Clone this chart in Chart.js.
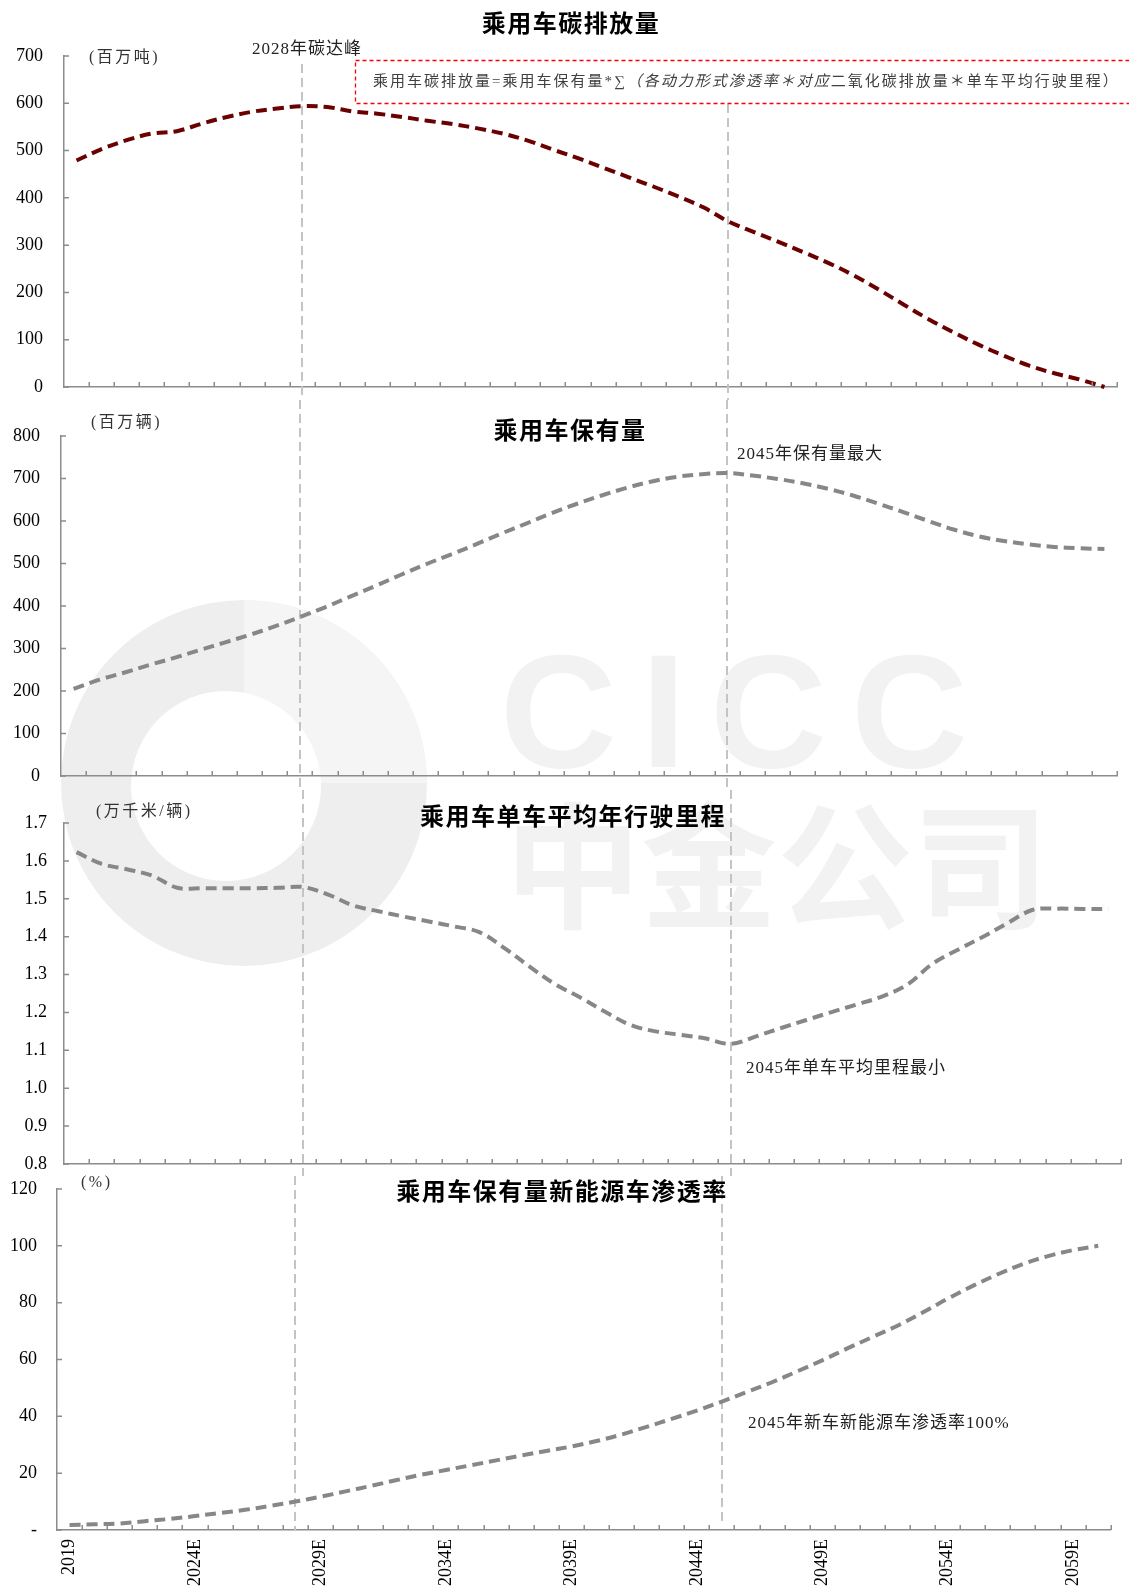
<!DOCTYPE html>
<html>
<head>
<meta charset="utf-8">
<script src="https://cdn.jsdelivr.net/npm/chart.js@4.4.1/dist/chart.umd.min.js"></script>
<style>
  html, body { margin: 0; padding: 0; background: #fff; }
  #wrap { position: relative; width: 1129px; height: 1592px; overflow: hidden; background: #fff; }
  #wrap canvas { position: absolute; left: 0; top: 0; }
</style>
</head>
<body>
<div id="wrap">
  <canvas id="bg" width="1129" height="1592"></canvas>
  <canvas id="c1" width="1129" height="1592"></canvas>
  <canvas id="c2" width="1129" height="1592"></canvas>
  <canvas id="c3" width="1129" height="1592"></canvas>
  <canvas id="c4" width="1129" height="1592"></canvas>
  <canvas id="fg" width="1129" height="1592"></canvas>
</div>
<script>
// Years on the shared horizontal axis
const years = ['2019','2020E','2021E','2022E','2023E','2024E','2025E','2026E','2027E','2028E',
  '2029E','2030E','2031E','2032E','2033E','2034E','2035E','2036E','2037E','2038E',
  '2039E','2040E','2041E','2042E','2043E','2044E','2045E','2046E','2047E','2048E',
  '2049E','2050E','2051E','2052E','2053E','2054E','2055E','2056E','2057E','2058E',
  '2059E','2060E'];

// 乘用车碳排放量 (百万吨)
const emissions = [479, 503, 522, 536, 541, 557, 571, 582, 589, 594,
  592, 583, 578, 571, 563, 556, 547, 536, 521, 502,
  484, 464, 444, 424, 403, 380, 350, 328, 307, 285,
  262, 236, 206, 174, 143, 115, 89, 66, 45, 29,
  16, 0];

// 乘用车保有量 (百万辆)
const carStock = [205, 226, 243, 261, 278, 296, 314, 332, 352, 374,
  397, 422, 447, 473, 498, 521, 545, 570, 594, 618,
  640, 660, 678, 693, 704, 710, 713, 707, 699, 689,
  676, 660, 641, 621, 600, 580, 564, 553, 545, 539,
  536, 534];

// 乘用车单车平均年行驶里程 (万千米/辆)
const mileage = [1.623, 1.592, 1.578, 1.561, 1.529, 1.528, 1.528, 1.528, 1.529, 1.531,
  1.511, 1.482, 1.467, 1.453, 1.440, 1.427, 1.412, 1.370, 1.321, 1.275,
  1.240, 1.202, 1.167, 1.150, 1.141, 1.131, 1.117, 1.137, 1.159, 1.180,
  1.201, 1.221, 1.242, 1.273, 1.328, 1.365, 1.399, 1.436, 1.471, 1.474,
  1.473, 1.473];

// 乘用车保有量新能源车渗透率 (%)
const nevShare = [1.8, 2.0, 2.3, 3.1, 3.9, 4.9, 6.0, 7.1, 8.5, 10.0,
  11.7, 13.6, 15.5, 17.5, 19.4, 21.1, 22.8, 24.5, 26.2, 27.8,
  29.4, 31.3, 33.6, 36.3, 39.1, 42.0, 45.2, 48.6, 52.0, 55.8,
  59.7, 63.9, 67.9, 71.9, 76.5, 81.4, 85.9, 90.0, 93.6, 96.4,
  98.5, 100.0];

// Years marked with a vertical guide line
const peakEmissionYear = '2028E';
const peakStockYear = '2045E';

const AXIS = '#8c8c8c';
const W = 1129, H = 1592;

// guide lines + inward tick marks
const panelDecor = {
  id: 'panelDecor',
  beforeDatasetsDraw(chart, args, opts) {
    const ctx = chart.ctx;
    const xs = chart.scales.x;
    ctx.save();
    ctx.strokeStyle = '#c4c4c4';
    ctx.lineWidth = 2;
    ctx.setLineDash([9, 5]);
    opts.guides.forEach(g => {
      const px = Math.round(xs.getPixelForValue(years.indexOf(g.year)));
      ctx.beginPath();
      ctx.moveTo(px, g.from);
      ctx.lineTo(px, g.to);
      ctx.stroke();
    });
    ctx.restore();
  },
  afterDraw(chart) {
    const ctx = chart.ctx;
    const {left, right, bottom} = chart.chartArea;
    const ys = chart.scales.y;
    const n = years.length;
    const w = (right - left) / n;
    ctx.save();
    ctx.strokeStyle = AXIS;
    ctx.lineWidth = 1.5;
    ctx.beginPath();
    for (let k = 1; k <= n; k++) {
      const px = Math.round(left + k * w) + 0.25;
      ctx.moveTo(px, bottom);
      ctx.lineTo(px, bottom - 5);
    }
    ys.ticks.forEach(t => {
      const py = ys.getPixelForValue(t.value);
      ctx.moveTo(left, py);
      ctx.lineTo(left + 5, py);
    });
    ctx.stroke();
    ctx.restore();
  }
};

function makePanel(p) {
  const showX = !!p.xLabels;
  return new Chart(document.getElementById(p.id), {
    type: 'line',
    data: {
      labels: years,
      datasets: [{
        data: p.data,
        borderColor: p.color,
        borderWidth: 4,
        borderDash: [11, 6],
        pointRadius: 0,
        tension: 0.35,
        fill: false,
        clip: false
      }]
    },
    options: {
      responsive: false,
      animation: false,
      devicePixelRatio: 1,
      layout: { padding: { left: 0, right: W - p.right, top: p.top, bottom: showX ? H - p.bottom - 60 : H - p.bottom } },
      plugins: {
        legend: { display: false },
        tooltip: { enabled: false },
        panelDecor: { guides: p.guides }
      },
      scales: {
        x: {
          type: 'category',
          offset: true,
          grid: { display: false, drawTicks: false },
          border: { display: true, color: AXIS, width: 1.5 },
          ticks: showX ? {
            display: true,
            autoSkip: false,
            maxRotation: 90,
            minRotation: 90,
            padding: 9,
            color: '#000',
            font: { family: "'Liberation Serif', 'Times New Roman', serif", size: 18 },
            callback: (v, i) => (i % 5 === 0 ? years[i] : '')
          } : { display: false },
          afterFit: s => { s.height = showX ? 60 : 0; }
        },
        y: {
          min: p.min,
          max: p.max,
          grid: { display: false, drawTicks: false },
          border: { display: true, color: AXIS, width: 1.5 },
          ticks: {
            stepSize: p.step,
            padding: p.pad,
            color: '#000',
            font: { family: "'Liberation Serif', 'Times New Roman', serif", size: 18 },
            callback: p.fmt
          },
          afterFit: s => { s.width = p.left; }
        }
      }
    },
    plugins: [panelDecor]
  });
}

makePanel({
  id: 'c1', data: emissions, color: '#6b0000',
  left: 64, right: 1117, top: 56, bottom: 387,
  min: 0, max: 700, step: 100, pad: 21, fmt: v => String(v),
  guides: [{ year: peakEmissionYear, from: 64, to: 400 }, { year: peakStockYear, from: 104, to: 400 }]
});
makePanel({
  id: 'c2', data: carStock, color: '#878787',
  left: 61, right: 1117, top: 436, bottom: 776,
  min: 0, max: 800, step: 100, pad: 21, fmt: v => String(v),
  guides: [{ year: peakEmissionYear, from: 400, to: 790 }, { year: peakStockYear, from: 400, to: 790 }]
});
makePanel({
  id: 'c3', data: mileage, color: '#878787',
  left: 64, right: 1121, top: 823, bottom: 1164,
  min: 0.8, max: 1.7, step: 0.1, pad: 17, fmt: v => Number(v).toFixed(1),
  guides: [{ year: peakEmissionYear, from: 790, to: 1176 }, { year: peakStockYear, from: 790, to: 1176 }]
});
makePanel({
  id: 'c4', data: nevShare, color: '#878787',
  left: 57, right: 1114, top: 1189, bottom: 1530,
  min: 0, max: 120, step: 20, pad: 20, fmt: v => (v === 0 ? '-' : String(v)),
  xLabels: true,
  guides: [{ year: peakEmissionYear, from: 1176, to: 1530 }, { year: peakStockYear, from: 1176, to: 1526 }]
});

// faint company mark behind the panels
(function drawMark() {
  const c = document.getElementById('bg').getContext('2d');
  const cx = 244, cy = 783, R = 183;
  c.fillStyle = '#eeeeee';
  c.beginPath(); c.arc(cx, cy, R, 0, Math.PI * 2); c.fill();
  c.fillStyle = '#f5f5f5';
  c.beginPath(); c.moveTo(cx, cy); c.arc(cx, cy, R, -Math.PI / 2, 0); c.closePath(); c.fill();
  c.fillStyle = '#ffffff';
  c.beginPath(); c.arc(226, 786, 95, 0, Math.PI * 2); c.fill();

  c.fillStyle = '#f2f2f2';
  c.textBaseline = 'alphabetic';
  c.textAlign = 'left';
  c.font = "bold 162px 'Liberation Sans', Arial, sans-serif";
  c.letterSpacing = '24px';
  c.fillText('CICC', 500, 767);
  c.font = "bold 136px 'Noto Sans CJK SC', sans-serif";
  c.letterSpacing = '0px';
  c.textBaseline = 'middle';
  c.fillText('中金公司', 505, 866);
})();

// titles, units and notes
(function drawText() {
  const c = document.getElementById('fg').getContext('2d');
  const cjk = "'Noto Sans CJK SC', sans-serif";
  const mixed = "'Liberation Serif', 'Noto Sans CJK SC', serif";
  c.textBaseline = 'middle';

  c.fillStyle = '#000';
  c.textAlign = 'center';
  c.font = 'bold 24px ' + cjk;
  c.letterSpacing = '1.5px';
  c.fillText('乘用车碳排放量', 571, 23);
  c.fillText('乘用车保有量', 570, 430);
  c.fillText('乘用车单车平均年行驶里程', 573, 816);
  c.fillText('乘用车保有量新能源车渗透率', 562, 1191);

  c.textAlign = 'left';
  c.fillStyle = '#333';
  c.font = '16px ' + mixed;
  c.letterSpacing = '2.5px';
  c.fillText('(百万吨)', 89, 58);
  c.fillText('(百万辆)', 91, 423);
  c.fillText('(万千米/辆)', 96, 812);
  c.fillText('(%)', 81, 1183);

  c.fillStyle = '#222';
  c.font = '17px ' + mixed;
  c.letterSpacing = '1px';
  c.fillText('2028年碳达峰', 252, 50);
  c.fillText('2045年保有量最大', 737, 455);
  c.fillText('2045年单车平均里程最小', 746, 1069);
  c.fillText('2045年新车新能源车渗透率100%', 748, 1424);

  // formula box
  c.save();
  c.strokeStyle = '#ff0000';
  c.lineWidth = 1.3;
  c.setLineDash([4, 3]);
  c.strokeRect(355.5, 60.5, 800, 43);
  c.restore();

  c.fillStyle = '#404040';
  c.letterSpacing = '2px';
  let x = 373;
  const y = 82;
  c.font = '15px ' + mixed;
  const p1 = '乘用车碳排放量=乘用车保有量*∑';
  c.fillText(p1, x, y); x += c.measureText(p1).width;
  c.font = 'italic 15px ' + mixed;
  const p2 = '（各动力形式渗透率＊对应';
  c.fillText(p2, x, y); x += c.measureText(p2).width;
  c.font = '15px ' + mixed;
  c.fillText('二氧化碳排放量＊单车平均行驶里程）', x, y);
})();
</script>
</body>
</html>
